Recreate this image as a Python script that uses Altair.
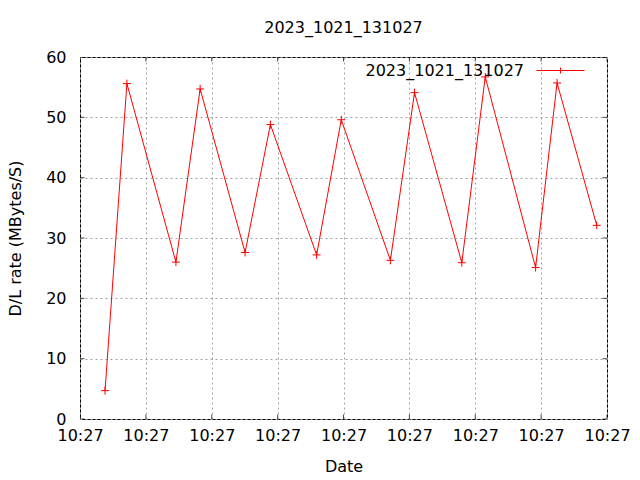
import altair as alt
import pandas as pd

# seconds after 10:27:00
secs = [1.9, 3.56, 7.28, 9.12, 12.53, 14.45, 17.96, 19.83, 23.56, 25.39, 28.98, 30.76, 34.58, 36.21, 39.22]
rates = [4.7, 55.6, 26.0, 54.7, 27.6, 48.8, 27.2, 49.6, 26.3, 54.1, 25.9, 56.7, 25.1, 55.7, 32.1]
series_name = "2023_1021_131027"
x_tick_values = [0, 5, 10, 15, 20, 25, 30, 35, 40]
y_tick_values = [0, 10, 20, 30, 40, 50, 60]

df = pd.DataFrame({"sec": secs, "rate": rates, "series": [series_name] * len(secs)})
xt = pd.DataFrame({"v": x_tick_values})
yt = pd.DataFrame({"v": y_tick_values})

FONT = "DejaVu Sans"
FS = 16

xscale = alt.Scale(domain=[0, 40], nice=False)
yscale = alt.Scale(domain=[0, 60], nice=False)

xaxis = alt.Axis(values=x_tick_values, labelExpr="'10:27'", title="Date",
                 grid=True, ticks=False, domain=False, labelPadding=8, titlePadding=15,
                 labelFlush=False)
yaxis = alt.Axis(values=y_tick_values, title="D/L rate (MBytes/S)", grid=True, ticks=False,
                 domain=False, labelPadding=14, titlePadding=22)

color = alt.Color("series:N", scale=alt.Scale(domain=[series_name], range=["#ff0000"]),
                  legend=alt.Legend(title=None, orient="none", legendX=456, legendY=-11,
                                    symbolType="M-1,0H1M0,-0.125V0.125", symbolSize=2304,
                                    symbolStrokeColor="#ff0000", symbolFillColor="transparent",
                                    symbolStrokeWidth=1, labelAlign="right",
                                    labelOffset={"expr": "-61"},
                                    labelFontSize=FS, labelFont=FONT, labelColor="black",
                                    padding=0))

base = alt.Chart(df)
line = base.mark_line(strokeWidth=1).encode(
    x=alt.X("sec:Q", scale=xscale, axis=xaxis),
    y=alt.Y("rate:Q", scale=yscale, axis=yaxis),
    color=color,
)
pts = base.mark_point(shape="M-1,0H1M0,-1V1", filled=False, size=64, strokeWidth=1, opacity=1).encode(
    x=alt.X("sec:Q", scale=xscale),
    y=alt.Y("rate:Q", scale=yscale),
    color=alt.Color("series:N", scale=alt.Scale(domain=[series_name], range=["#ff0000"]), legend=None),
)

tick_size = 9
xt_bottom = alt.Chart(xt).mark_tick(orient="vertical", color="black", size=tick_size, thickness=1, clip=True).encode(
    x=alt.X("v:Q", scale=xscale), y=alt.datum(0, scale=yscale))
xt_top = alt.Chart(xt).mark_tick(orient="vertical", color="black", size=tick_size, thickness=1, clip=True).encode(
    x=alt.X("v:Q", scale=xscale), y=alt.datum(60, scale=yscale))
yt_left = alt.Chart(yt).mark_tick(orient="horizontal", color="black", size=tick_size, thickness=1, clip=True).encode(
    y=alt.Y("v:Q", scale=yscale), x=alt.datum(0, scale=xscale))
yt_right = alt.Chart(yt).mark_tick(orient="horizontal", color="black", size=tick_size, thickness=1, clip=True).encode(
    y=alt.Y("v:Q", scale=yscale), x=alt.datum(40, scale=xscale))

chart = alt.layer(xt_bottom, xt_top, yt_left, yt_right, line, pts).properties(
    width=527, height=362,
    title=alt.TitleParams(series_name, fontSize=FS, font=FONT, fontWeight="normal", color="black",
                          anchor="middle", offset=10),
    autosize=alt.AutoSizeParams(type="none"),
    padding={"left": 72, "top": 49, "right": 24, "bottom": 58},
    background="white",
).configure_view(stroke="black", strokeWidth=1).configure_axis(
    labelFont=FONT, labelFontSize=FS, labelColor="black", titleFont=FONT, titleFontSize=FS,
    titleColor="black", titleFontWeight="normal", gridColor="#a0a0a0", gridDash=[2, 3], gridWidth=1,
    gridOpacity=1,
)

chart.save("out.html", embed_options={"renderer": "svg", "actions": False})
